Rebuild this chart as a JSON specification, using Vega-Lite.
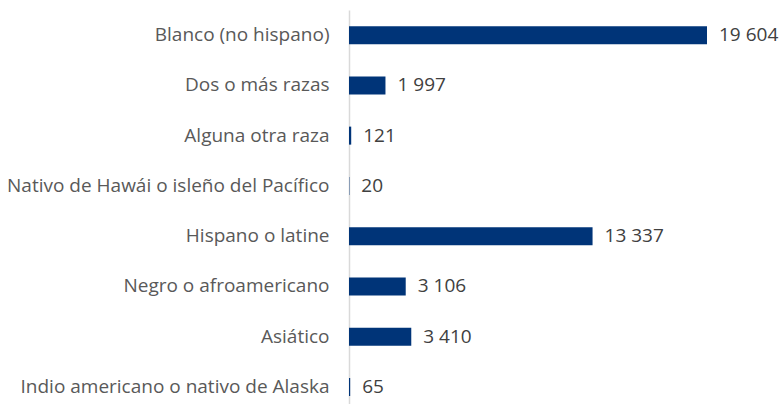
{
  "$schema": "https://vega.github.io/schema/vega-lite/v6.json",
  "autosize": "none",
  "width": 358,
  "height": 402,
  "padding": {"left": 349, "top": 10, "right": 74, "bottom": 0},
  "background": "white",
  "data": {"values": [
    {"grupo": "Blanco (no hispano)", "valor": 19604},
    {"grupo": "Dos o más razas", "valor": 1997},
    {"grupo": "Alguna otra raza", "valor": 121},
    {"grupo": "Nativo de Hawái o isleño del Pacífico", "valor": 20},
    {"grupo": "Hispano o latine", "valor": 13337},
    {"grupo": "Negro o afroamericano", "valor": 3106},
    {"grupo": "Asiático", "valor": 3410},
    {"grupo": "Indio americano o nativo de Alaska", "valor": 65}
  ]},
  "encoding": {
    "y": {"field": "grupo", "type": "nominal", "sort": null, "title": null,
      "axis": {"domainColor": "#d9d9d9", "domainWidth": 1.5, "ticks": false, "labelPadding": 20,
        "labelFont": "Open Sans", "labelFontSize": 19, "labelColor": "#595959", "labelLimit": 400}},
    "x": {"field": "valor", "type": "quantitative", "scale": {"domain": [0, 19604]}, "axis": null}
  },
  "layer": [
    {"mark": {"type": "bar", "color": "#003478", "height": 18}},
    {"mark": {"type": "text", "align": "left", "baseline": "middle", "dx": 12, "font": "Open Sans", "fontSize": 19, "color": "#404040"},
     "encoding": {"text": {"field": "valor", "type": "quantitative", "format": ",d"}}}
  ],
  "config": {"view": {"stroke": null},
    "locale": {"number": {"decimal": ",", "thousands": "\u00a0", "grouping": [3], "currency": ["", ""]}}}
}
